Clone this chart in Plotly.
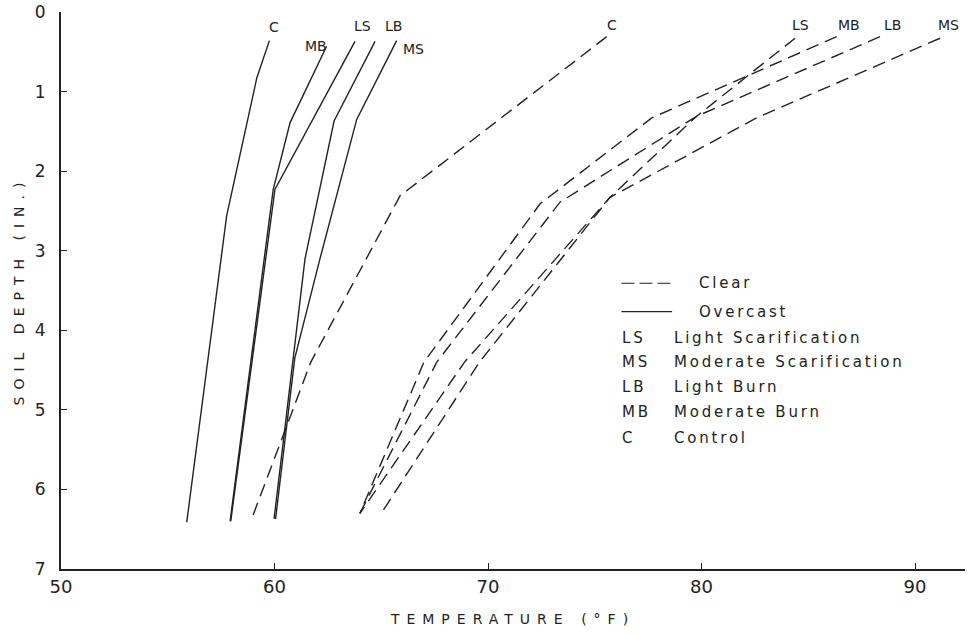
import plotly.graph_objects as go

# ---- data (temperature °F vs soil depth in.) ----
# Overcast (solid lines)
ov_C_temp = [59.76, 59.17, 57.76, 55.89]
ov_C_depth = [0.36, 0.83, 2.56, 6.41]
ov_MB_temp = [62.44, 60.73, 59.94, 57.92]
ov_MB_depth = [0.43, 1.39, 2.23, 6.40]
ov_LS_temp = [63.77, 60.02, 57.95]
ov_LS_depth = [0.37, 2.23, 6.40]
ov_LB_temp = [64.71, 62.79, 61.43, 60.88, 59.98]
ov_LB_depth = [0.37, 1.37, 3.10, 4.35, 6.37]
ov_MS_temp = [65.72, 63.85, 62.13, 60.95, 60.05]
ov_MS_depth = [0.36, 1.35, 3.10, 4.35, 6.37]

# Clear (dashed lines)
cl_C_temp = [75.56, 65.88, 61.70, 58.93]
cl_C_depth = [0.31, 2.31, 4.40, 6.37]
cl_LS_temp = [84.38, 79.77, 75.71, 68.90, 64.00]
cl_LS_depth = [0.33, 1.31, 2.33, 4.40, 6.30]
cl_MB_temp = [86.33, 77.67, 72.44, 67.00, 64.00]
cl_MB_depth = [0.31, 1.33, 2.41, 4.40, 6.30]
cl_LB_temp = [88.36, 79.77, 73.37, 67.60, 64.00]
cl_LB_depth = [0.31, 1.31, 2.39, 4.40, 6.30]
cl_MS_temp = [91.17, 82.58, 75.71, 69.60, 65.00]
cl_MS_depth = [0.33, 1.33, 2.33, 4.40, 6.30]

x_ticks = [50, 60, 70, 80, 90]
y_ticks = [0, 1, 2, 3, 4, 5, 6, 7]

legend_abbr = ["LS", "MS", "LB", "MB", "C"]
legend_desc = ["Light Scarification", "Moderate Scarification", "Light Burn",
               "Moderate Burn", "Control"]

INK = "#222222"
FONT = "DejaVu Sans"


def spaced(text, px):
    return '<span style="letter-spacing:%spx">%s</span>' % (px, text)


overcast = [("C", ov_C_temp, ov_C_depth, 5, 14),
            ("MB", ov_MB_temp, ov_MB_depth, -11, 0),
            ("LS", ov_LS_temp, ov_LS_depth, 7, 15),
            ("LB", ov_LB_temp, ov_LB_depth, 18, 15),
            ("MS", ov_MS_temp, ov_MS_depth, 17, -8)]
clear = [("C", cl_C_temp, cl_C_depth, 5, 12),
         ("LS", cl_LS_temp, cl_LS_depth, 5, 13),
         ("MB", cl_MB_temp, cl_MB_depth, 12, 12),
         ("LB", cl_LB_temp, cl_LB_depth, 12, 12),
         ("MS", cl_MS_temp, cl_MS_depth, 8, 13)]

fig = go.Figure()
annotations = []

for name, t, d, dx, dy in overcast:
    fig.add_trace(go.Scatter(x=t, y=d, mode="lines", name="Overcast " + name,
                             line=dict(color=INK, width=1.4),
                             showlegend=False, hoverinfo="skip"))
    annotations.append(dict(x=t[0], y=d[0], xref="x", yref="y", text=name,
                            showarrow=False, xshift=dx, yshift=dy,
                            font=dict(family=FONT, size=14, color=INK)))

for name, t, d, dx, dy in clear:
    fig.add_trace(go.Scatter(x=t, y=d, mode="lines", name="Clear " + name,
                             line=dict(color=INK, width=1.4, dash="13px,7px"),
                             showlegend=False, hoverinfo="skip"))
    annotations.append(dict(x=t[0], y=d[0], xref="x", yref="y", text=name,
                            showarrow=False, xshift=dx, yshift=dy,
                            font=dict(family=FONT, size=14, color=INK)))

# ---- key (drawn in paper coordinates) ----
shapes = [
    dict(type="line", xref="paper", yref="paper", x0=0.620, x1=0.676,
         y0=0.513, y1=0.513, line=dict(color=INK, width=1.2, dash="13px,5px")),
    dict(type="line", xref="paper", yref="paper", x0=0.620, x1=0.676,
         y0=0.462, y1=0.462, line=dict(color=INK, width=1.2)),
]
annotations.append(dict(x=0.703, y=0.513, xref="paper", yref="paper",
                        text=spaced("Clear", 2.8),
                        showarrow=False, xanchor="left", yanchor="middle",
                        font=dict(family=FONT, size=15, color=INK)))
annotations.append(dict(x=0.703, y=0.462, xref="paper", yref="paper",
                        text=spaced("Overcast", 2.8),
                        showarrow=False, xanchor="left", yanchor="middle",
                        font=dict(family=FONT, size=15, color=INK)))
row_y = [0.414, 0.372, 0.327, 0.282, 0.235]
for ab, de, yy in zip(legend_abbr, legend_desc, row_y):
    annotations.append(dict(x=0.618, y=yy, xref="paper", yref="paper",
                            text=spaced(ab, 2.8),
                            showarrow=False, xanchor="left", yanchor="middle",
                            font=dict(family=FONT, size=15, color=INK)))
    annotations.append(dict(x=0.676, y=yy, xref="paper", yref="paper",
                            text=spaced(de, 2.8),
                            showarrow=False, xanchor="left", yanchor="middle",
                            font=dict(family=FONT, size=15, color=INK)))

fig.update_layout(
    width=975, height=635,
    margin=dict(l=61, r=10, t=12, b=66),
    paper_bgcolor="white", plot_bgcolor="white",
    showlegend=False,
    shapes=shapes, annotations=annotations,
    xaxis=dict(range=[50, 92.34], tickvals=x_ticks, ticks="inside", ticklen=6,
               tickcolor=INK, tickwidth=1.2, showline=True, linecolor=INK,
               linewidth=2, showgrid=False, zeroline=False, automargin=False,
               tickfont=dict(family=FONT, size=18, color=INK),
               title=dict(text=spaced("TEMPERATURE (°F)", 7), standoff=19,
                          font=dict(family=FONT, size=14, color=INK))),
    yaxis=dict(range=[7, 0], tickvals=y_ticks, ticks="inside", ticklen=6,
               tickcolor=INK, tickwidth=1.2, showline=True, linecolor=INK,
               linewidth=2, showgrid=False, zeroline=False, automargin=False,
               ticklabelstandoff=10,
               tickfont=dict(family=FONT, size=17, color=INK),
               title=dict(text=spaced("SOIL DEPTH (IN.)", 7), standoff=7,
                          font=dict(family=FONT, size=14, color=INK))),
)

fig.write_html("out.html")
